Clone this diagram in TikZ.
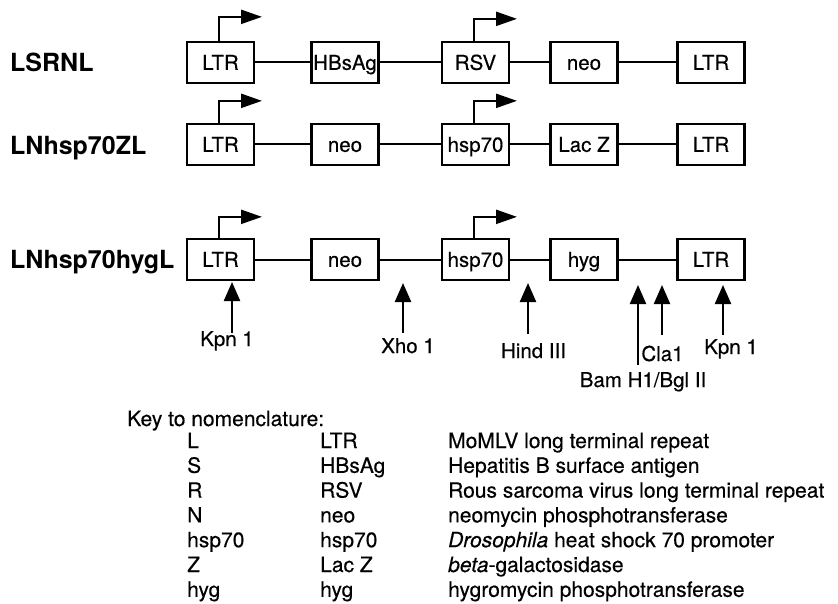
\documentclass[tikz,border=0pt]{standalone}
\usepackage{fontspec}
\setmainfont{TeX Gyre Heros}
\newfontfamily\heavy[FakeBold=0.35]{TeX Gyre Heros}
\usetikzlibrary{arrows.meta}
\begin{document}
\begin{tikzpicture}[x=1pt,y=-1pt,
  gene/.style={draw, line width=2.3pt, minimum width=67pt, minimum height=41pt, inner sep=0pt,
    text height=14.7pt, text depth=0pt, font=\heavy\fontsize{20.5}{24}\selectfont},
  link/.style={line width=2pt},
  prom/.style={line width=2.3pt, -{Triangle[length=21pt,width=14pt]}},
  site/.style={line width=2.3pt, -{Triangle[length=19pt,width=16pt]}},
  title/.style={anchor=base west, font=\fontsize{25}{30}\selectfont\bfseries, inner sep=0pt},
  lab/.style={anchor=base, font=\heavy\fontsize{20.5}{24}\selectfont, inner sep=0pt},
  keytxt/.style={anchor=base west, font=\heavy\fontsize{21}{25}\selectfont, inner sep=0pt}]
\useasboundingbox (0,0) rectangle (838,604);

% ---------- row 1: LSRNL ----------
\node[title] (t1) at (10,72) {LSRNL};
\node[gene] (a1) at (220.5,62.5) {LTR};
\node[gene] (a2) at (345,62.5) {HBsAg};
\node[gene] (a3) at (475.5,62.5) {RSV};
\node[gene] (a4) at (584,62.5) {neo};
\node[gene] (a5) at (711,62.5) {LTR};
\draw[link] (a1) -- (a2);
\draw[link] (a2) -- (a3);
\draw[link] (a3) -- (a4);
\draw[link] (a4) -- (a5);
\draw[prom] ([xshift=-1.5pt]a1.north) -- ++(0,-24) -- ++(43,0);
\draw[prom] ([xshift=-1.5pt]a3.north) -- ++(0,-22) -- ++(43,0);

% ---------- row 2: LNhsp70ZL ----------
\node[title] (t2) at (10,155) {LNhsp70ZL};
\node[gene] (b1) at (220.5,144.5) {LTR};
\node[gene] (b2) at (345,144.5) {neo};
\node[gene] (b3) at (475.5,144.5) {hsp70};
\node[gene] (b4) at (584,144.5) {Lac Z};
\node[gene] (b5) at (711,144.5) {LTR};
\draw[link] (b1) -- (b2);
\draw[link] (b2) -- (b3);
\draw[link] (b3) -- (b4);
\draw[link] (b4) -- (b5);
\draw[prom] ([xshift=-1.5pt]b1.north) -- ++(0,-22) -- ++(43,0);
\draw[prom] ([xshift=-1.5pt]b3.north) -- ++(0,-22) -- ++(43,0);

% ---------- row 3: LNhsp70hygL ----------
\node[title] (t3) at (10,268) {LNhsp70hygL};
\node[gene] (c1) at (220.5,259.5) {LTR};
\node[gene] (c2) at (345,259.5) {neo};
\node[gene] (c3) at (475.5,259.5) {hsp70};
\node[gene] (c4) at (584,259.5) {hyg};
\node[gene] (c5) at (711,259.5) {LTR};
\draw[link] (c1) -- (c2);
\draw[link] (c2) -- (c3);
\draw[link] (c3) -- (c4);
\draw[link] (c4) -- (c5);
\draw[prom] ([xshift=-1.5pt]c1.north) -- ++(0,-21) -- ++(43,0);
\draw[prom] ([xshift=-1.5pt]c3.north) -- ++(0,-21) -- ++(43,0);

% ---------- restriction sites ----------
\node[lab] (s1) at (227,346) {Kpn 1};
\node[lab] (s2) at (408,353) {Xho 1};
\node[lab] (s3) at (533.5,358) {Hind III};
\node[lab] (s4) at (643,387) {Bam H1/Bgl II};
\node[lab] (s5) at (662.5,361) {Cla1};
\node[lab] (s6) at (731,354) {Kpn 1};
\coordinate (s1t) at (232,282);
\coordinate (s1b) at (232,333);
\coordinate (s2t) at (403,283);
\coordinate (s2b) at (403,333);
\coordinate (s3t) at (528,283);
\coordinate (s3b) at (528,334);
\coordinate (s4t) at (638,285);
\coordinate (s4b) at (638,365);
\coordinate (s5t) at (662,285);
\coordinate (s5b) at (662,335);
\coordinate (s6t) at (723,285);
\coordinate (s6b) at (723,335);
\draw[site] (s1b) -- (s1t);
\draw[site] (s2b) -- (s2t);
\draw[site] (s3b) -- (s3t);
\draw[site] (s4b) -- (s4t);
\draw[site] (s5b) -- (s5t);
\draw[site] (s6b) -- (s6t);

% ---------- key ----------
\node[keytxt] (khead) at (127,426) {Key to nomenclature:};
\foreach \i/\ab/\nm/\ds in {
  1/L/LTR/MoMLV long terminal repeat,
  2/S/HBsAg/Hepatitis B surface antigen,
  3/R/RSV/Rous sarcoma virus long terminal repeat,
  4/N/neo/neomycin phosphotransferase,
  5/hsp70/hsp70/\textit{Drosophila} heat shock 70 promoter,
  6/Z/Lac Z/\textit{beta}-galactosidase,
  7/hyg/hyg/hygromycin phosphotransferase}{
  \node[keytxt] (ka\i) at (187,{448+24.8*(\i-1)}) {\ab};
  \node[keytxt] (kb\i) at (320,{448+24.8*(\i-1)}) {\nm};
  \node[keytxt] (kc\i) at (448,{448+24.8*(\i-1)}) {\ds};
}
\end{tikzpicture}
\end{document}
